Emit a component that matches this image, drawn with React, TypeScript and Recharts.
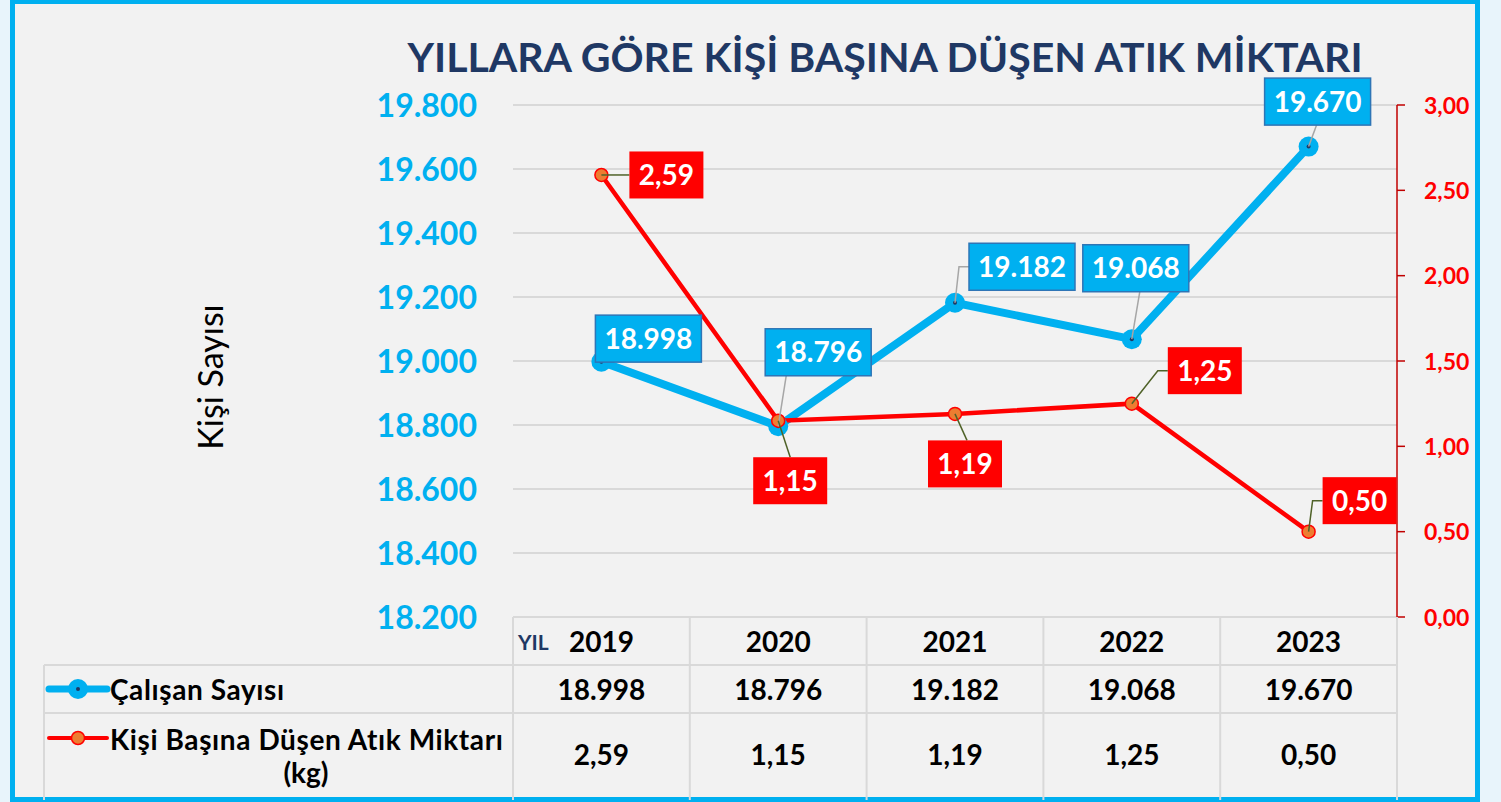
import React from 'react';
import { LineChart, Line, XAxis, YAxis, CartesianGrid, LabelList, Customized } from 'recharts';

const years = ['2019', '2020', '2021', '2022', '2023'];
const calisanSayisi = [18998, 18796, 19182, 19068, 19670];
const atikMiktari = [2.59, 1.15, 1.19, 1.25, 0.5];
const leftTicks = [18200, 18400, 18600, 18800, 19000, 19200, 19400, 19600, 19800];
const rightTicks = [0, 0.5, 1, 1.5, 2, 2.5, 3];

const title = 'YILLARA GÖRE KİŞİ BAŞINA DÜŞEN ATIK MİKTARI';
const yLabel = 'Kişi Sayısı';
const seriesNames = ['Çalışan Sayısı', 'Kişi Başına Düşen Atık Miktarı', '(kg)'];

// where each data label box sits, relative to its point (box centre)
const blueLabelOffsets = [[47, -23], [40, -74], [67, -36], [4, -71], [9, -45]];
const redLabelOffsets = [[65, 0], [12, 60], [10, 50], [73, -33], [51, -31]];

const data = years.map((year, i) => ({ year, calisan: calisanSayisi[i], atik: atikMiktari[i] }));

const W = 1501;
const H = 802;
const PLOT_LEFT = 513;
const PLOT_RIGHT = 1397;
const PLOT_TOP = 105;
const PLOT_BOTTOM = 617;
const BAND = (PLOT_RIGHT - PLOT_LEFT) / years.length;
const TABLE_LEFT = 44;
const ROW1 = 665;
const ROW2 = 713;
const TABLE_BOTTOM = 800;

const FONT = 'Lato, "Open Sans", sans-serif';
const BLUE = '#00b0f0';
const RED = '#ff0000';
const NAVY = '#1f3864';
const GRID = '#d9d9d9';

const fmtInt = (v: number) => {
  const th = Math.floor(v / 1000);
  const rest = String(v % 1000).padStart(3, '0');
  return th > 0 ? `${th}.${rest}` : String(v);
};
const fmtDec = (v: number) => v.toFixed(2).replace('.', ',');

const LeftTick = (props: any) => {
  const { x, y, payload } = props;
  return (
    <text x={x} y={y + 11.5} textAnchor="end" fontFamily={FONT} fontWeight={700} fontSize={32} fill={BLUE}>
      {fmtInt(payload.value)}
    </text>
  );
};

const RightTick = (props: any) => {
  const { x, y, payload } = props;
  return (
    <text x={x} y={y + 8.5} textAnchor="start" fontFamily={FONT} fontWeight={700} fontSize={23} fill={RED}>
      {fmtDec(payload.value)}
    </text>
  );
};

// x axis ticks draw the data table columns under the plot
const TableTick = (props: any) => {
  const { x, payload } = props;
  const i = years.indexOf(String(payload.value));
  const half = BAND / 2;
  const txt = { fontFamily: FONT, fontWeight: 700, fontSize: 28, fill: '#000', textAnchor: 'middle' as const };
  return (
    <g>
      <line x1={x - half} x2={x - half} y1={PLOT_BOTTOM} y2={TABLE_BOTTOM} stroke={GRID} strokeWidth={2} />
      {i === years.length - 1 && (
        <line x1={x + half} x2={x + half} y1={PLOT_BOTTOM} y2={TABLE_BOTTOM} stroke={GRID} strokeWidth={2} />
      )}
      <text x={x} y={652} {...txt}>{years[i]}</text>
      <text x={x} y={700} {...txt}>{fmtInt(calisanSayisi[i])}</text>
      <text x={x} y={765} {...txt}>{fmtDec(atikMiktari[i])}</text>
    </g>
  );
};

const BlueDot = (props: any) => {
  const { cx, cy } = props;
  if (cx == null || cy == null) return null;
  return (
    <g>
      <circle cx={cx} cy={cy} r={10} fill={BLUE} />
      <circle cx={cx} cy={cy} r={2} fill={NAVY} />
    </g>
  );
};

const RedDot = (props: any) => {
  const { cx, cy } = props;
  if (cx == null || cy == null) return null;
  return <circle cx={cx} cy={cy} r={6.5} fill="#ed7d31" stroke={RED} strokeWidth={1.5} />;
};

const makeLabel = (offsets: number[][], w: number, h: number, fill: string, border: string | null, leader: string, fmt: (v: number) => string) => {
  return (props: any) => {
    const { index, value } = props;
    const px = props.x ?? props.viewBox?.x;
    const py = props.y ?? props.viewBox?.y;
    if (px == null || py == null) return null;
    const [dx, dy] = offsets[index];
    const cx = px + dx;
    const cy = py + dy;
    const bx = cx - w / 2;
    const by = cy - h / 2;
    let path = '';
    if (px < bx) {
      path = `M${px},${py}L${bx - 10},${cy}L${bx},${cy}`;
    } else if (py > by + h + 4) {
      const tx = Math.min(Math.max(px + 8, bx), bx + w);
      path = `M${px},${py}L${tx},${by + h}`;
    } else if (py < by - 4) {
      const tx = Math.min(Math.max(px + 12, bx), bx + w);
      path = `M${px},${py}L${tx},${by}`;
    }
    return (
      <g>
        {path && <path d={path} fill="none" stroke={leader} strokeWidth={1.5} />}
        <rect x={bx} y={by} width={w} height={h} fill={fill} stroke={border ?? 'none'} strokeWidth={border ? 1.5 : 0} />
        <text x={cx} y={cy + 10} textAnchor="middle" fontFamily={FONT} fontWeight={700} fontSize={28} fill="#fff">
          {fmt(value)}
        </text>
      </g>
    );
  };
};

const BlueLabel = makeLabel(blueLabelOffsets, 106, 47, BLUE, '#2e75b6', '#a6a6a6', fmtInt);
const RedLabel = makeLabel(redLabelOffsets, 74, 47, RED, null, '#4f6228', fmtDec);

const StaticLayer = () => (
  <g>
    <text x={885} y={72} textAnchor="middle" fontFamily={FONT} fontWeight={700} fontSize={41} fill={NAVY}>
      {title}
    </text>
    <text
      x={0}
      y={0}
      transform="translate(223,377) rotate(-90)"
      textAnchor="middle"
      fontFamily={FONT}
      fontSize={34}
      fill="#000"
    >
      {yLabel}
    </text>
    <line x1={PLOT_LEFT} x2={PLOT_RIGHT} y1={PLOT_BOTTOM} y2={PLOT_BOTTOM} stroke={GRID} strokeWidth={2} />
    <line x1={TABLE_LEFT} x2={PLOT_RIGHT} y1={ROW1} y2={ROW1} stroke={GRID} strokeWidth={2} />
    <line x1={TABLE_LEFT} x2={PLOT_RIGHT} y1={ROW2} y2={ROW2} stroke={GRID} strokeWidth={2} />
    <line x1={TABLE_LEFT} x2={TABLE_LEFT} y1={ROW1} y2={TABLE_BOTTOM} stroke={GRID} strokeWidth={2} />
    <text x={518} y={650} fontFamily={FONT} fontWeight={700} fontSize={21} fill={NAVY}>YIL</text>
    {/* legend keys */}
    <line x1={49} x2={107} y1={689} y2={689} stroke={BLUE} strokeWidth={7} strokeLinecap="round" />
    <circle cx={78} cy={689} r={10} fill={BLUE} />
    <circle cx={78} cy={689} r={2} fill={NAVY} />
    <line x1={49} x2={107} y1={738} y2={738} stroke={RED} strokeWidth={4} strokeLinecap="round" />
    <circle cx={78} cy={738} r={6.5} fill="#ed7d31" stroke={RED} strokeWidth={1.5} />
    <text x={110} y={700} fontFamily={FONT} fontWeight={700} fontSize={28} letterSpacing={0.6} fill="#000">
      {seriesNames[0]}
    </text>
    <text x={110} y={750} fontFamily={FONT} fontWeight={700} fontSize={28} letterSpacing={0.6} fill="#000">
      {seriesNames[1]}
    </text>
    <text x={306} y={783} textAnchor="middle" fontFamily={FONT} fontWeight={700} fontSize={28} fill="#000">
      {seriesNames[2]}
    </text>
  </g>
);

export default function App() {
  return (
    <div style={{ position: 'absolute', left: 0, top: 0, width: W, height: H, background: '#e8f4fb', overflow: 'hidden' }}>
      <div
        style={{
          position: 'absolute',
          left: 10,
          top: -1,
          width: 1470,
          height: 803,
          border: `5px solid ${BLUE}`,
          boxSizing: 'border-box',
          background: '#f2f2f2',
        }}
      />
      <div style={{ position: 'absolute', left: 0, top: 0 }}>
        <LineChart width={W} height={H} data={data} margin={{ top: PLOT_TOP, right: 0, bottom: 0, left: 0 }}>
          <CartesianGrid yAxisId="left" vertical={false} stroke={GRID} strokeWidth={2} />
          <XAxis
            dataKey="year"
            scale="band"
            height={H - PLOT_BOTTOM}
            axisLine={false}
            tickLine={false}
            interval={0}
            tick={<TableTick />}
          />
          <YAxis
            yAxisId="left"
            width={PLOT_LEFT}
            domain={[18200, 19800]}
            ticks={leftTicks}
            axisLine={false}
            tickLine={false}
            tickSize={0}
            tickMargin={36}
            tick={<LeftTick />}
            allowDataOverflow
          />
          <YAxis
            yAxisId="right"
            orientation="right"
            width={W - PLOT_RIGHT}
            domain={[0, 3]}
            ticks={rightTicks}
            axisLine={{ stroke: '#c00000', strokeWidth: 1.5 }}
            tickLine={{ stroke: '#c00000', strokeWidth: 1.5 }}
            tickSize={8}
            tickMargin={19}
            tick={<RightTick />}
          />
          <Customized component={<StaticLayer />} />
          <Line
            yAxisId="left"
            dataKey="calisan"
            stroke={BLUE}
            strokeWidth={8}
            dot={<BlueDot />}
            activeDot={false}
            isAnimationActive={false}
          >
            <LabelList dataKey="calisan" content={BlueLabel} />
          </Line>
          <Line
            yAxisId="right"
            dataKey="atik"
            stroke={RED}
            strokeWidth={4.5}
            dot={<RedDot />}
            activeDot={false}
            isAnimationActive={false}
          >
            <LabelList dataKey="atik" content={RedLabel} />
          </Line>
        </LineChart>
      </div>
    </div>
  );
}
